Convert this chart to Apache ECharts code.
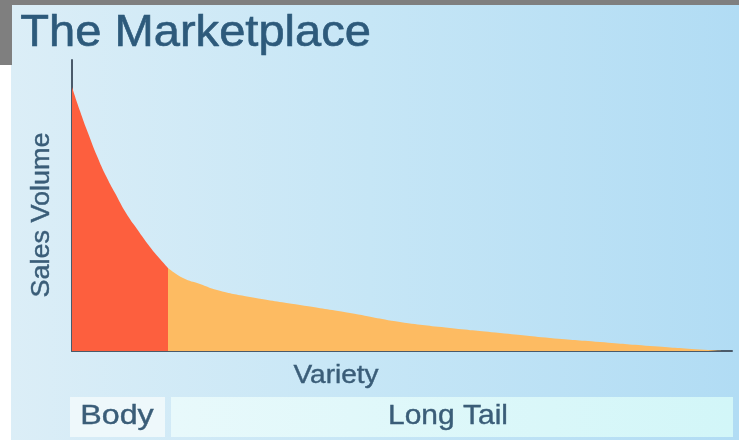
<!DOCTYPE html>
<html>
<head>
<meta charset="utf-8">
<script src="https://cdn.jsdelivr.net/npm/echarts@6/dist/echarts.min.js"></script>
<style>html,body{margin:0;padding:0;background:#fff;}#c{width:739px;height:440px;}</style>
</head>
<body>
<div id="c"></div>
<script>
// Data (x: variety rank, y: sales volume, arbitrary units)
var titleText = 'The Marketplace';
var xName = 'Variety';
var yName = 'Sales Volume';
var segmentLabels = ['Body', 'Long Tail'];
var bodyData = [[0,264],[8,240],[16,218],[25,195],[34,175],[43,158],[54,138],[65,122],[78,104],[88,92],[96,83]];
var tailData = [[96,83],[111,73],[128,67],[145,61],[178,54],[228,46],[278,38],[328,29],[378,23],[428,18],[478,13],[528,9],[578,5],[628,1.5],[650,0]];
var xMax = 660, yMax = 291;

var chart = echarts.init(document.getElementById('c'), null, {renderer: 'canvas'});
var textColor = '#3a5d78';
var option = {
  animation: false,
  backgroundColor: '#ffffff',
  grid: {left: 72, right: 7, top: 60, bottom: 89},
  xAxis: {
    type: 'value', min: 0, max: xMax,
    axisLine: {show: true, onZero: false, lineStyle: {color: '#4a5a6a', width: 2}},
    axisTick: {show: false}, axisLabel: {show: false}, splitLine: {show: false}
  },
  yAxis: {
    type: 'value', min: 0, max: yMax,
    axisLine: {show: true, lineStyle: {color: '#4a5a6a', width: 2}},
    axisTick: {show: false}, axisLabel: {show: false}, splitLine: {show: false}
  },
  graphic: [
    {type: 'rect', z: -10, silent: true, shape: {x: 0, y: 0, width: 739, height: 440},
     style: {fill: new echarts.graphic.LinearGradient(0, 0, 1, 0, [
       {offset: 0, color: '#dcEEf7'}, {offset: 0.5, color: '#c6e6f6'}, {offset: 1, color: '#b1dcf4'}])}},
    {type: 'rect', z: -9, silent: true, shape: {x: 0, y: 0, width: 739, height: 5}, style: {fill: '#7f7f7f'}},
    {type: 'rect', z: -9, silent: true, shape: {x: 0, y: 0, width: 12, height: 65}, style: {fill: '#7f7f7f'}},
    {type: 'rect', z: -9, silent: true, shape: {x: 0, y: 65, width: 11, height: 375}, style: {fill: '#ffffff'}},
    {type: 'rect', z: -5, silent: true, shape: {x: 70, y: 397, width: 95, height: 40}, style: {fill: '#eef8fb'}},
    {type: 'rect', z: -5, silent: true, shape: {x: 171, y: 397, width: 562, height: 40},
     style: {fill: new echarts.graphic.LinearGradient(0, 0, 1, 0, [
       {offset: 0, color: '#e8f9fb'}, {offset: 1, color: '#d2f6f8'}])}},
    {type: 'text', z: 10, left: 20, top: 12, scaleX: 1.07,
     style: {text: titleText, font: '44px "Liberation Sans", Arial, sans-serif', fill: '#2d5a7b', stroke: '#2d5a7b', lineWidth: 0.6}},
    {type: 'text', z: 10, x: 336, y: 376, scaleX: 1.12,
     style: {text: xName, font: '25px "Liberation Sans", Arial, sans-serif', fill: textColor, stroke: textColor, lineWidth: 0.4, align: 'center', verticalAlign: 'middle'}},
    {type: 'text', z: 10, x: 42, y: 215, rotation: Math.PI / 2, scaleX: 1.08,
     style: {text: yName, font: '25px "Liberation Sans", Arial, sans-serif', fill: textColor, stroke: textColor, lineWidth: 0.4, align: 'center', verticalAlign: 'middle'}},
    {type: 'text', z: 10, x: 117, y: 416, scaleX: 1.15,
     style: {text: segmentLabels[0], font: '28px "Liberation Sans", Arial, sans-serif', fill: textColor, stroke: textColor, lineWidth: 0.4, align: 'center', verticalAlign: 'middle'}},
    {type: 'text', z: 10, x: 448, y: 416, scaleX: 1.07,
     style: {text: segmentLabels[1], font: '28px "Liberation Sans", Arial, sans-serif', fill: textColor, stroke: textColor, lineWidth: 0.4, align: 'center', verticalAlign: 'middle'}}
  ],
  series: [
    {type: 'line', data: bodyData, smooth: true, showSymbol: false,
     lineStyle: {width: 0}, areaStyle: {color: '#fd5f3e', opacity: 1}, z: 3},
    {type: 'line', data: tailData, smooth: true, showSymbol: false,
     lineStyle: {width: 0}, areaStyle: {color: '#fdbb62', opacity: 1}, z: 2}
  ]
};
chart.setOption(option);
</script>
</body>
</html>
